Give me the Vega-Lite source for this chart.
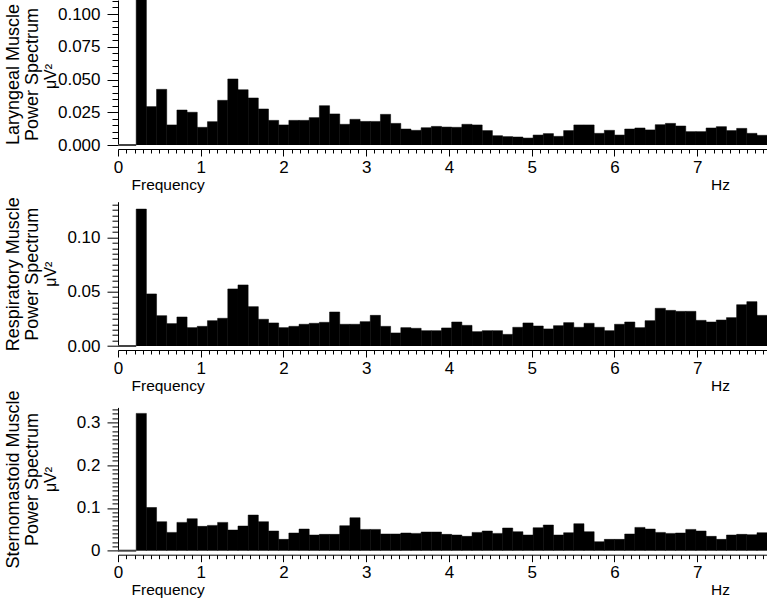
{
  "$schema": "https://vega.github.io/schema/vega-lite/v6.json",
  "padding": {"left": 3, "top": 0, "right": 0, "bottom": 0},
  "background": "white",
  "datasets": {
    "spec": [
      {"f0":0.220,"f1":0.343,"lar":0.13,"resp":0.126,"stern":0.321},
      {"f0":0.343,"f1":0.466,"lar":0.0293,"resp":0.0479,"stern":0.101},
      {"f0":0.466,"f1":0.589,"lar":0.0425,"resp":0.0279,"stern":0.0678},
      {"f0":0.589,"f1":0.712,"lar":0.0153,"resp":0.0206,"stern":0.0428},
      {"f0":0.712,"f1":0.835,"lar":0.0267,"resp":0.0267,"stern":0.0662},
      {"f0":0.835,"f1":0.958,"lar":0.025,"resp":0.0169,"stern":0.0748},
      {"f0":0.958,"f1":1.081,"lar":0.0135,"resp":0.0181,"stern":0.0569},
      {"f0":1.081,"f1":1.204,"lar":0.0178,"resp":0.0233,"stern":0.0592},
      {"f0":1.204,"f1":1.327,"lar":0.0341,"resp":0.0255,"stern":0.0662},
      {"f0":1.327,"f1":1.450,"lar":0.0504,"resp":0.0525,"stern":0.0483},
      {"f0":1.450,"f1":1.573,"lar":0.0422,"resp":0.0562,"stern":0.0576},
      {"f0":1.573,"f1":1.696,"lar":0.0359,"resp":0.0362,"stern":0.0833},
      {"f0":1.696,"f1":1.819,"lar":0.0275,"resp":0.0246,"stern":0.0678},
      {"f0":1.819,"f1":1.942,"lar":0.0188,"resp":0.0212,"stern":0.046},
      {"f0":1.942,"f1":2.065,"lar":0.0153,"resp":0.0169,"stern":0.0265},
      {"f0":2.065,"f1":2.188,"lar":0.0188,"resp":0.0181,"stern":0.0413},
      {"f0":2.188,"f1":2.311,"lar":0.0188,"resp":0.020,"stern":0.0506},
      {"f0":2.311,"f1":2.434,"lar":0.0209,"resp":0.0209,"stern":0.0366},
      {"f0":2.434,"f1":2.557,"lar":0.030,"resp":0.0218,"stern":0.0382},
      {"f0":2.557,"f1":2.680,"lar":0.0237,"resp":0.0313,"stern":0.0382},
      {"f0":2.680,"f1":2.803,"lar":0.0158,"resp":0.020,"stern":0.0584},
      {"f0":2.803,"f1":2.926,"lar":0.0196,"resp":0.020,"stern":0.0771},
      {"f0":2.926,"f1":3.049,"lar":0.018,"resp":0.0224,"stern":0.0498},
      {"f0":3.049,"f1":3.172,"lar":0.018,"resp":0.0282,"stern":0.0498},
      {"f0":3.172,"f1":3.295,"lar":0.0234,"resp":0.0181,"stern":0.039},
      {"f0":3.295,"f1":3.418,"lar":0.0165,"resp":0.012,"stern":0.039},
      {"f0":3.418,"f1":3.541,"lar":0.0122,"resp":0.0169,"stern":0.0413},
      {"f0":3.541,"f1":3.664,"lar":0.0112,"resp":0.0163,"stern":0.0405},
      {"f0":3.664,"f1":3.787,"lar":0.0132,"resp":0.0141,"stern":0.0436},
      {"f0":3.787,"f1":3.910,"lar":0.0142,"resp":0.0141,"stern":0.0436},
      {"f0":3.910,"f1":4.033,"lar":0.0137,"resp":0.0166,"stern":0.0382},
      {"f0":4.033,"f1":4.156,"lar":0.0135,"resp":0.0221,"stern":0.0366},
      {"f0":4.156,"f1":4.279,"lar":0.0158,"resp":0.019,"stern":0.0335},
      {"f0":4.279,"f1":4.402,"lar":0.0153,"resp":0.0132,"stern":0.0428},
      {"f0":4.402,"f1":4.525,"lar":0.011,"resp":0.0141,"stern":0.046},
      {"f0":4.525,"f1":4.648,"lar":0.0071,"resp":0.0141,"stern":0.0405},
      {"f0":4.648,"f1":4.771,"lar":0.0064,"resp":0.0107,"stern":0.053},
      {"f0":4.771,"f1":4.894,"lar":0.0061,"resp":0.0172,"stern":0.0444},
      {"f0":4.894,"f1":5.017,"lar":0.0053,"resp":0.0212,"stern":0.0366},
      {"f0":5.017,"f1":5.140,"lar":0.0076,"resp":0.0184,"stern":0.0537},
      {"f0":5.140,"f1":5.263,"lar":0.0087,"resp":0.0157,"stern":0.06},
      {"f0":5.263,"f1":5.386,"lar":0.0066,"resp":0.0187,"stern":0.0366},
      {"f0":5.386,"f1":5.509,"lar":0.011,"resp":0.0215,"stern":0.042},
      {"f0":5.509,"f1":5.632,"lar":0.0153,"resp":0.0172,"stern":0.0631},
      {"f0":5.632,"f1":5.755,"lar":0.0153,"resp":0.0209,"stern":0.0444},
      {"f0":5.755,"f1":5.878,"lar":0.0089,"resp":0.0172,"stern":0.021},
      {"f0":5.878,"f1":6.001,"lar":0.0112,"resp":0.0141,"stern":0.0265},
      {"f0":6.001,"f1":6.124,"lar":0.0076,"resp":0.020,"stern":0.0265},
      {"f0":6.124,"f1":6.247,"lar":0.0122,"resp":0.0221,"stern":0.039},
      {"f0":6.247,"f1":6.370,"lar":0.013,"resp":0.0169,"stern":0.0545},
      {"f0":6.370,"f1":6.493,"lar":0.0115,"resp":0.0233,"stern":0.0506},
      {"f0":6.493,"f1":6.616,"lar":0.0155,"resp":0.0347,"stern":0.0428},
      {"f0":6.616,"f1":6.739,"lar":0.0165,"resp":0.0328,"stern":0.0405},
      {"f0":6.739,"f1":6.862,"lar":0.0145,"resp":0.0319,"stern":0.0413},
      {"f0":6.862,"f1":6.985,"lar":0.0102,"resp":0.0319,"stern":0.0498},
      {"f0":6.985,"f1":7.108,"lar":0.0102,"resp":0.0236,"stern":0.046},
      {"f0":7.108,"f1":7.231,"lar":0.013,"resp":0.0221,"stern":0.0335},
      {"f0":7.231,"f1":7.354,"lar":0.014,"resp":0.0239,"stern":0.0265},
      {"f0":7.354,"f1":7.477,"lar":0.011,"resp":0.0261,"stern":0.0366},
      {"f0":7.477,"f1":7.600,"lar":0.0127,"resp":0.038,"stern":0.0382},
      {"f0":7.600,"f1":7.723,"lar":0.0089,"resp":0.0408,"stern":0.0374},
      {"f0":7.723,"f1":7.850,"lar":0.0074,"resp":0.0282,"stern":0.042}
    ],
    "base": [{"f0":0,"f1":0.22,"p":0}]
  },
  "vconcat": [
    {
      "width": 649.5, "height": 145,
      "layer": [
        {
          "data": {"name": "spec"},
          "mark": {"type": "rect", "color": "black", "stroke": "black", "strokeWidth": 0.5, "clip": true},
          "encoding": {
            "x": {"field": "f0", "type": "quantitative", "scale": {"domain": [0, 7.85], "nice": false, "zero": false},
              "axis": {"orient": "bottom", "values": [0,1,2,3,4,5,6,7], "format": "d", "tickSize": 7, "labelPadding": 3, "labelFontSize": 17, "offset": 4,
                "title": "Frequency", "titleX": 13, "titleY": 40, "titleAlign": "left", "titleBaseline": "alphabetic", "titleFontSize": 15.5}},
            "x2": {"field": "f1"},
            "y": {"field": "lar", "type": "quantitative", "scale": {"domain": [0, 0.1107], "nice": false, "zero": false},
              "axis": {"orient": "left", "values": [0,0.025,0.05,0.075,0.1], "format": ".3f", "tickSize": 11, "labelPadding": 7, "labelFontSize": 17,
                "title": ["Laryngeal Muscle", "Power Spectrum"], "titleX": -114, "titleY": 74, "titleAngle": -90, "titleAlign": "center", "titleBaseline": "top", "titleFontSize": 18, "titleLineHeight": 19}},
            "y2": {"datum": 0}
          }
        },
        {
          "data": {"name": "base"},
          "mark": {"type": "rule", "color": "#444", "strokeWidth": 2},
          "encoding": {
            "x": {"field": "f0", "type": "quantitative", "scale": {"domain": [0, 7.85], "nice": false, "zero": false},
              "axis": {"orient": "bottom", "values": [0.1,0.2,0.3,0.4,0.5,0.6,0.7,0.8,0.9,1.1,1.2,1.3,1.4,1.5,1.6,1.7,1.8,1.9,2.1,2.2,2.3,2.4,2.5,2.6,2.7,2.8,2.9,3.1,3.2,3.3,3.4,3.5,3.6,3.7,3.8,3.9,4.1,4.2,4.3,4.4,4.5,4.6,4.7,4.8,4.9,5.1,5.2,5.3,5.4,5.5,5.6,5.7,5.8,5.9,6.1,6.2,6.3,6.4,6.5,6.6,6.7,6.8,6.9,7.1,7.2,7.3,7.4,7.5,7.6,7.7,7.8],
                "labels": false, "domain": false, "tickSize": 4, "offset": 4,
                "title": "Hz", "titleX": 602, "titleY": 40, "titleAlign": "center", "titleBaseline": "alphabetic", "titleFontSize": 15.5}},
            "x2": {"field": "f1"},
            "y": {"field": "p", "type": "quantitative", "scale": {"domain": [0, 0.1107], "nice": false, "zero": false},
              "axis": {"orient": "left", "values": [0.005,0.01,0.015,0.02,0.03,0.035,0.04,0.045,0.055,0.06,0.065,0.07,0.08,0.085,0.09,0.095,0.105,0.11],
                "labels": false, "domain": false, "tickSize": 6,
                "title": "μV²", "titleX": -68, "titleY": 76, "titleAngle": -90, "titleAlign": "center", "titleBaseline": "middle", "titleFontSize": 16}}
          }
        }
      ],
      "resolve": {"axis": {"x": "independent", "y": "independent"}}
    },
    {
      "vconcat": [
        {
          "width": 649.5, "height": 144.3,
          "layer": [
            {
              "data": {"name": "spec"},
              "mark": {"type": "rect", "color": "black", "stroke": "black", "strokeWidth": 0.5, "clip": true},
              "encoding": {
                "x": {"field": "f0", "type": "quantitative", "scale": {"domain": [0, 7.85], "nice": false, "zero": false},
                  "axis": {"orient": "bottom", "values": [0,1,2,3,4,5,6,7], "format": "d", "tickSize": 7, "labelPadding": 3, "labelFontSize": 17, "offset": 4,
                    "title": "Frequency", "titleX": 13, "titleY": 40, "titleAlign": "left", "titleBaseline": "alphabetic", "titleFontSize": 15.5}},
                "x2": {"field": "f1"},
                "y": {"field": "resp", "type": "quantitative", "scale": {"domain": [0, 0.1328], "nice": false, "zero": false},
                  "axis": {"orient": "left", "values": [0,0.05,0.1], "format": ".2f", "tickSize": 11, "labelPadding": 7, "labelFontSize": 17,
                    "title": ["Respiratory Muscle", "Power Spectrum"], "titleX": -114, "titleY": 72, "titleAngle": -90, "titleAlign": "center", "titleBaseline": "top", "titleFontSize": 18, "titleLineHeight": 19}},
                "y2": {"datum": 0}
              }
            },
            {
              "data": {"name": "base"},
              "mark": {"type": "rule", "color": "#444", "strokeWidth": 2},
              "encoding": {
                "x": {"field": "f0", "type": "quantitative", "scale": {"domain": [0, 7.85], "nice": false, "zero": false},
                  "axis": {"orient": "bottom", "values": [0.1,0.2,0.3,0.4,0.5,0.6,0.7,0.8,0.9,1.1,1.2,1.3,1.4,1.5,1.6,1.7,1.8,1.9,2.1,2.2,2.3,2.4,2.5,2.6,2.7,2.8,2.9,3.1,3.2,3.3,3.4,3.5,3.6,3.7,3.8,3.9,4.1,4.2,4.3,4.4,4.5,4.6,4.7,4.8,4.9,5.1,5.2,5.3,5.4,5.5,5.6,5.7,5.8,5.9,6.1,6.2,6.3,6.4,6.5,6.6,6.7,6.8,6.9,7.1,7.2,7.3,7.4,7.5,7.6,7.7,7.8],
                    "labels": false, "domain": false, "tickSize": 4, "offset": 4,
                    "title": "Hz", "titleX": 602, "titleY": 40, "titleAlign": "center", "titleBaseline": "alphabetic", "titleFontSize": 15.5}},
                "x2": {"field": "f1"},
                "y": {"field": "p", "type": "quantitative", "scale": {"domain": [0, 0.1328], "nice": false, "zero": false},
                  "axis": {"orient": "left", "values": [0.005,0.01,0.015,0.02,0.025,0.03,0.035,0.04,0.045,0.055,0.06,0.065,0.07,0.075,0.08,0.085,0.09,0.095,0.105,0.11,0.115,0.12,0.125,0.13],
                    "labels": false, "domain": false, "tickSize": 6,
                    "title": "μV²", "titleX": -68, "titleY": 72, "titleAngle": -90, "titleAlign": "center", "titleBaseline": "middle", "titleFontSize": 16}}
              }
            }
          ],
          "resolve": {"axis": {"x": "independent", "y": "independent"}}
        },
        {
          "width": 649.5, "height": 143.3,
          "layer": [
            {
              "data": {"name": "spec"},
              "mark": {"type": "rect", "color": "black", "stroke": "black", "strokeWidth": 0.5, "clip": true},
              "encoding": {
                "x": {"field": "f0", "type": "quantitative", "scale": {"domain": [0, 7.85], "nice": false, "zero": false},
                  "axis": {"orient": "bottom", "values": [0,1,2,3,4,5,6,7], "format": "d", "tickSize": 7, "labelPadding": 3, "labelFontSize": 17, "offset": 4,
                    "title": "Frequency", "titleX": 13, "titleY": 40, "titleAlign": "left", "titleBaseline": "alphabetic", "titleFontSize": 15.5}},
                "x2": {"field": "f1"},
                "y": {"field": "stern", "type": "quantitative", "scale": {"domain": [0, 0.335], "nice": false, "zero": false},
                  "axis": {"orient": "left", "values": [0,0.1,0.2,0.3], "format": "~g", "tickSize": 11, "labelPadding": 7, "labelFontSize": 17,
                    "title": ["Sternomastoid Muscle", "Power Spectrum"], "titleX": -114, "titleY": 71.6, "titleAngle": -90, "titleAlign": "center", "titleBaseline": "top", "titleFontSize": 18, "titleLineHeight": 19}},
                "y2": {"datum": 0}
              }
            },
            {
              "data": {"name": "base"},
              "mark": {"type": "rule", "color": "#444", "strokeWidth": 2},
              "encoding": {
                "x": {"field": "f0", "type": "quantitative", "scale": {"domain": [0, 7.85], "nice": false, "zero": false},
                  "axis": {"orient": "bottom", "values": [0.1,0.2,0.3,0.4,0.5,0.6,0.7,0.8,0.9,1.1,1.2,1.3,1.4,1.5,1.6,1.7,1.8,1.9,2.1,2.2,2.3,2.4,2.5,2.6,2.7,2.8,2.9,3.1,3.2,3.3,3.4,3.5,3.6,3.7,3.8,3.9,4.1,4.2,4.3,4.4,4.5,4.6,4.7,4.8,4.9,5.1,5.2,5.3,5.4,5.5,5.6,5.7,5.8,5.9,6.1,6.2,6.3,6.4,6.5,6.6,6.7,6.8,6.9,7.1,7.2,7.3,7.4,7.5,7.6,7.7,7.8],
                    "labels": false, "domain": false, "tickSize": 4, "offset": 4,
                    "title": "Hz", "titleX": 602, "titleY": 40, "titleAlign": "center", "titleBaseline": "alphabetic", "titleFontSize": 15.5}},
                "x2": {"field": "f1"},
                "y": {"field": "p", "type": "quantitative", "scale": {"domain": [0, 0.335], "nice": false, "zero": false},
                  "axis": {"orient": "left", "values": [0.01,0.02,0.03,0.04,0.05,0.06,0.07,0.08,0.09,0.11,0.12,0.13,0.14,0.15,0.16,0.17,0.18,0.19,0.21,0.22,0.23,0.24,0.25,0.26,0.27,0.28,0.29,0.31,0.32,0.33],
                    "labels": false, "domain": false, "tickSize": 6,
                    "title": "μV²", "titleX": -68, "titleY": 71.6, "titleAngle": -90, "titleAlign": "center", "titleBaseline": "middle", "titleFontSize": 16}}
              }
            }
          ],
          "resolve": {"axis": {"x": "independent", "y": "independent"}}
        }
      ],
      "spacing": 60.7,
      "bounds": "flush"
    }
  ],
  "spacing": 56.7,
  "bounds": "flush",
  "config": {
    "view": {"stroke": null},
    "font": "Liberation Sans",
    "axis": {
      "grid": false, "domainColor": "black", "tickColor": "black", "labelColor": "black", "titleColor": "black",
      "titleFontWeight": "normal", "labelFont": "Liberation Sans", "titleFont": "Liberation Sans",
      "labelOverlap": false, "labelFlush": false, "domainWidth": 1, "tickWidth": 1
    }
  }
}
